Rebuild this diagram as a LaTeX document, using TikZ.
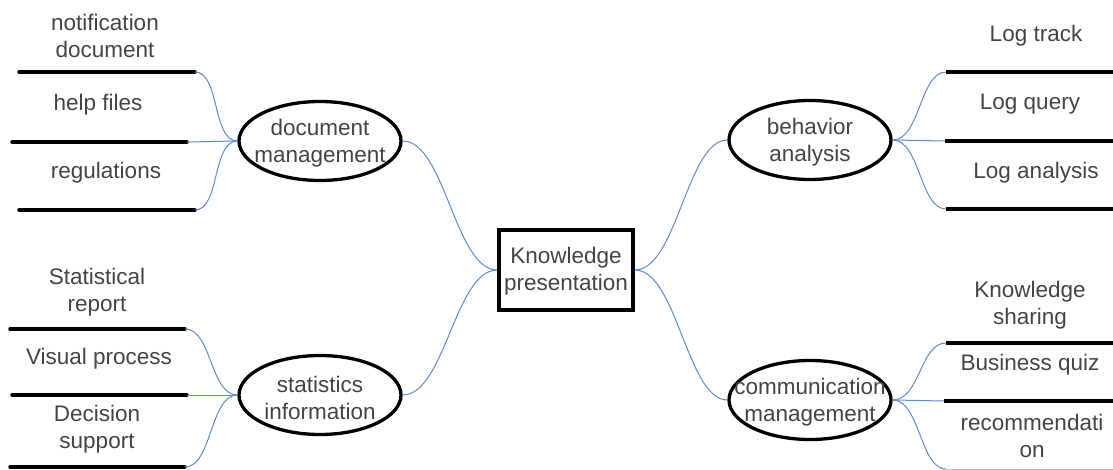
\documentclass[tikz,border=0pt]{standalone}
\usepackage{fontspec}
\setmainfont{Liberation Sans}
\usetikzlibrary{shapes.geometric}
\definecolor{txt}{HTML}{444444}
\definecolor{conn}{HTML}{5B8BD6}
\tikzset{
  lbl/.style={align=center, text=txt, inner sep=0pt, yshift=-2.5pt, font=\fontsize{22.5}{27}\selectfont},
  oval/.style={ellipse, draw=black, line width=3.3pt, minimum width=162pt, minimum height=79pt, inner sep=0pt},
  rootbox/.style={rectangle, draw=black, line width=3.6pt, minimum width=134pt, minimum height=80pt, inner sep=0pt},
  bar/.style={line width=3.5pt, line cap=round},
  link/.style={draw=conn, line width=1pt},
}
\begin{document}
\begin{tikzpicture}[x=1pt,y=1pt]
\useasboundingbox (0,0) rectangle (1113,-470);
% root
\node[rootbox] (root) at (566,-270) {};
\node[lbl] (roott) at (566,-269) {Knowledge\\presentation};
% ellipses
\node[oval] (dm) at (320,-141) {};
\node[lbl] (dmt) at (320,-141) {document\\management};
\node[oval] (ba) at (810,-140) {};
\node[lbl] (bat) at (810,-140) {behavior\\analysis};
\node[oval] (si) at (320,-395) {};
\node[lbl] (sit) at (320,-395) {statistics\\information};
\node[oval] (cm) at (810,-400) {};
\node[lbl] (cmt) at (810,-400) {communication\\management};
% root links
\draw[link] (root.west) .. controls (455,-270) and (445,-141) .. (dm.east);
\draw[link] (root.west) .. controls (455,-270) and (445,-395) .. (si.east);
\draw[link] (root.east) .. controls (677,-270) and (687,-140) .. (ba.west);
\draw[link] (root.east) .. controls (677,-270) and (687,-400) .. (cm.west);
% document management bars
\coordinate (d1a) at (19,-72);  \coordinate (d1b) at (195,-72);
\coordinate (d2a) at (12,-142); \coordinate (d2b) at (187,-142);
\coordinate (d3a) at (19,-210); \coordinate (d3b) at (195,-210);
\draw[bar] (d1a) -- (d1b);
\draw[bar] (d2a) -- (d2b);
\draw[bar] (d3a) -- (d3b);
\draw[link] (dm.west) .. controls (212,-141) and (220,-72) .. (d1b);
\draw[link] (dm.west) -- (d2b);
\draw[link] (dm.west) .. controls (212,-141) and (220,-210) .. (d3b);
\node[lbl] (dl1) at (105,-33) {notification\\document};
\node[lbl] (dl2) at (98,-102) {help files};
\node[lbl] (dl3) at (106,-170) {regulations};
% behavior analysis bars
\coordinate (b1a) at (946,-72);  \coordinate (b1b) at (1113,-72);
\coordinate (b2a) at (945,-141); \coordinate (b2b) at (1113,-141);
\coordinate (b3a) at (946,-209); \coordinate (b3b) at (1113,-209);
\draw[bar, line cap=butt] (b1a) -- (b1b);
\draw[bar, line cap=butt] (b2a) -- (b2b);
\draw[bar, line cap=butt] (b3a) -- (b3b);
\draw[link] (ba.east) .. controls (920,-140) and (920,-72) .. (b1a);
\draw[link] (ba.east) -- (b2a);
\draw[link] (ba.east) .. controls (920,-140) and (920,-209) .. (b3a);
\node[lbl] (bl1) at (1036,-33) {Log track};
\node[lbl] (bl2) at (1030,-102) {Log query};
\node[lbl] (bl3) at (1036,-170) {Log analysis};
% statistics information bars
\coordinate (s1a) at (10,-329); \coordinate (s1b) at (185,-329);
\coordinate (s2a) at (12,-395); \coordinate (s2b) at (187,-395);
\coordinate (s3a) at (10,-467); \coordinate (s3b) at (185,-467);
\draw[bar] (s1a) -- (s1b);
\draw[bar] (s2a) -- (s2b);
\draw[bar] (s3a) -- (s3b);
\draw[link] (si.west) .. controls (210,-395) and (212,-329) .. (s1b);
\draw[link] (si.west) -- (s2b);
\draw[link] (si.west) .. controls (210,-395) and (212,-467) .. (s3b);
\node[lbl] (sl1) at (97,-290) {Statistical\\report};
\node[lbl] (sl2) at (99,-356) {Visual process};
\node[lbl] (sl3) at (97,-427) {Decision\\support};
% communication management bars
\coordinate (c1a) at (946,-343); \coordinate (c1b) at (1113,-343);
\coordinate (c2a) at (944,-401); \coordinate (c2b) at (1113,-401);
\coordinate (c3a) at (946,-469); \coordinate (c3b) at (1113,-469);
\draw[bar, line cap=butt] (c1a) -- (c1b);
\draw[bar, line cap=butt] (c2a) -- (c2b);
\draw[line width=1pt, black!25] (c3a) -- (c3b);
\draw[link] (cm.east) .. controls (920,-400) and (920,-343) .. (c1a);
\draw[link] (cm.east) -- (c2a);
\draw[link] (cm.east) .. controls (920,-400) and (920,-469) .. (c3a);
\node[lbl] (cl1) at (1030,-303) {Knowledge\\sharing};
\node[lbl] (cl2) at (1030,-362) {Business quiz};
\node[lbl] (cl3) at (1032,-433) {recommendati\\on};
\end{tikzpicture}
\end{document}
